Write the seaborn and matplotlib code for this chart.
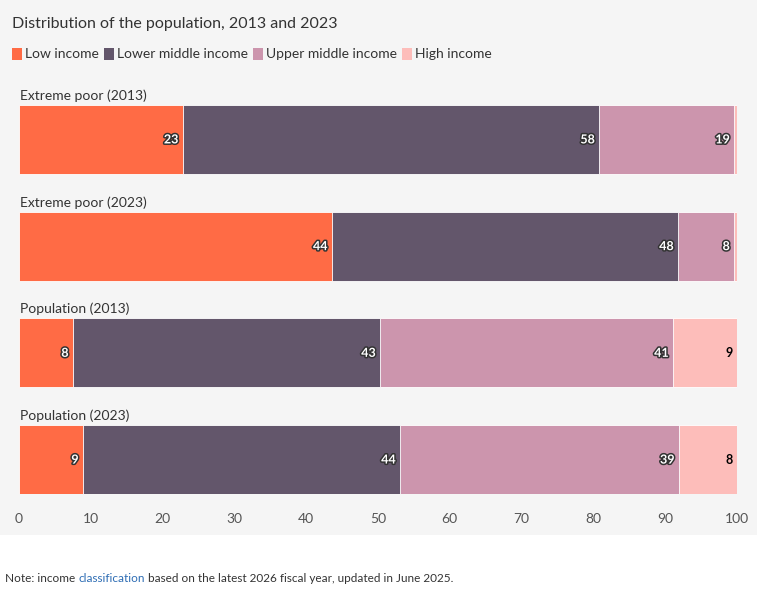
import matplotlib
matplotlib.use("Agg")
import matplotlib.pyplot as plt
import matplotlib.patheffects as pe
from matplotlib.patches import Rectangle
import seaborn as sns
import pandas as pd
import numpy as np

sns.set_theme(style="white")
plt.rcParams['font.family'] = ['Lato', 'DejaVu Sans']

groups = ["Extreme poor (2013)", "Extreme poor (2023)", "Population (2013)", "Population (2023)"]
series = ["Low income", "Lower middle income", "Upper middle income", "High income"]
low = [22.8, 43.6, 7.5, 8.9]
lower_mid = [58.0, 48.2, 42.8, 44.2]
upper_mid = [18.8, 7.8, 40.8, 38.8]
high = [0.4, 0.4, 8.9, 8.1]
colors = ["#FF6B45", "#63566B", "#CC95AD", "#FDBDBA"]

vals = np.array([low, lower_mid, upper_mid, high])
cum = vals.cumsum(axis=0)

fig = plt.figure(figsize=(7.57, 5.98), dpi=100)
fig.patch.set_facecolor("white")
fig.patches.append(Rectangle((0, 1 - 535/598), 1, 535/598, transform=fig.transFigure,
                             facecolor="#F5F5F5", edgecolor="none", zorder=-10))
ax = fig.add_axes([19/757, 1 - 494/598, (737-19)/757, 389/598])
ax.set_zorder(5)
ax.set_facecolor("none")

for i in range(3, -1, -1):
    df = pd.DataFrame({"group": groups, "value": cum[i]})
    sns.barplot(data=df, y="group", x="value", color=colors[i], orient="h",
                width=0.645, ax=ax, edgecolor="white", linewidth=0.6, saturation=1)

ax.set_xlim(0, 100)
ax.set_ylim(3.3225, -0.3225)
ax.set_yticks([])
ax.set_ylabel("")
ax.set_xlabel("")
ax.set_xticks(range(0, 101, 10))
ax.tick_params(axis="x", length=0, labelsize=10, labelcolor="#555555", pad=14)
for s in ax.spines.values():
    s.set_visible(False)

for j, g in enumerate(groups):
    ax.text(0.2, j - 0.3225 - 0.03, g, ha="left", va="bottom", fontsize=10, color="#333333")
    for i in range(4):
        v = vals[i][j]
        if v < 2:
            continue
        c = "black" if i == 3 else "white"
        t = ax.text(cum[i][j] - 0.6, j, f"{v:.0f}", ha="right", va="center",
                    fontsize=9, fontweight="bold", color=c)
        if i < 3:
            t.set_path_effects([pe.withStroke(linewidth=2.2, foreground="#333333")])

fig.text(12/757, 1 - 24/598, "Distribution of the population, 2013 and 2023",
         fontsize=11.5, color="#333333", va="center")
x = 12/757
for name, col in zip(series, colors):
    fig.patches.append(Rectangle((x, 1 - 60/598), 10/757, 12/598, transform=fig.transFigure,
                                 facecolor=col, edgecolor="none"))
    t = fig.text(x + 13/757, 1 - 54/598, name, fontsize=10, color="#333333", va="center")
    fig.canvas.draw()
    bb = t.get_window_extent()
    x = (bb.x1 + 5) / 757

t1 = fig.text(5/757, 1 - 578/598, "Note: income ", fontsize=8.5, color="#333333", va="center")
fig.canvas.draw()
b = t1.get_window_extent()
t2 = fig.text(b.x1/757, 1 - 578/598, "classification", fontsize=8.5, color="#2E6DB4", va="center")
fig.canvas.draw()
b = t2.get_window_extent()
fig.text(b.x1/757, 1 - 578/598, " based on the latest 2026 fiscal year, updated in June 2025.",
         fontsize=8.5, color="#333333", va="center")

fig.savefig("out.png", dpi=100)
